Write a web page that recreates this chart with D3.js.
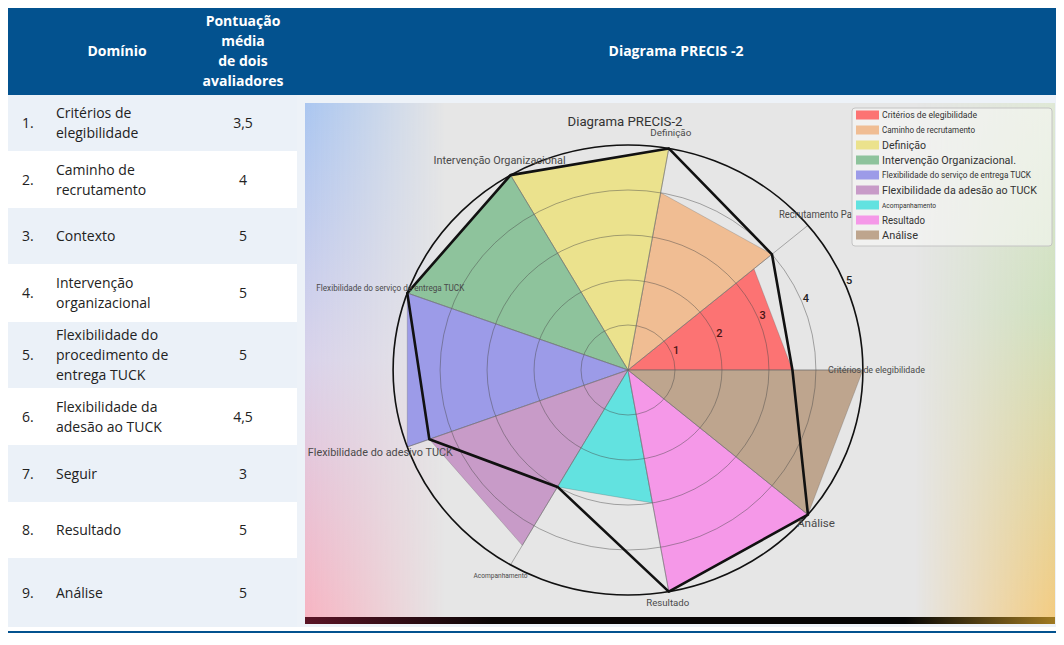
<!DOCTYPE html>
<html><head><meta charset="utf-8">
<script src="https://cdn.jsdelivr.net/npm/d3@7"></script>
<style>body{margin:0;background:#fff;} svg{display:block;}</style>
</head><body><svg id="c" width="1064" height="645"></svg>
<script>
// ---------- DATA ----------
const headerDomain = "Domínio";
const headerScore = ["Pontuação", "média", "de dois", "avaliadores"];
const headerChart = "Diagrama PRECIS -2";
const rowNumbers = ["1.", "2.", "3.", "4.", "5.", "6.", "7.", "8.", "9."];
const domainNames = [
  ["Critérios de", "elegibilidade"], ["Caminho de", "recrutamento"], ["Contexto"],
  ["Intervenção", "organizacional"], ["Flexibilidade do", "procedimento de", "entrega TUCK"],
  ["Flexibilidade da", "adesão ao TUCK"], ["Seguir"], ["Resultado"], ["Análise"]
];
const meanScores = [3.5, 4, 5, 5, 5, 4.5, 3, 5, 5];

const chartTitle = "Diagrama PRECIS-2";
const axisLabels = ["Critérios de elegibilidade", "Recrutamento Pa", "Definição", "Intervenção Organizacional",
  "Flexibilidade do serviço de entrega TUCK", "Flexibilidade do adesivo TUCK", "Acompanhamento", "Resultado", "Análise"];
const legendLabels = ["Critérios de elegibilidade", "Caminho de recrutamento", " Definição", "Intervenção Organizacional.",
  "Flexibilidade do serviço de entrega TUCK", "Flexibilidade da adesão ao TUCK", "Acompanhamento", "Resultado", "Análise"];
const radarValues = [3.5, 4, 5, 5, 5, 4.5, 3, 5, 5];
const ringTicks = [1, 2, 3, 4, 5];
const wedgeColors = ["#fc7373", "#f0bd93", "#ebe28d", "#8ec39c", "#9c9be8", "#c89bc8", "#62e2e0", "#f598e8", "#bea58e"];

// ---------- LAYOUT / STYLE ----------
const rowHeights = [56, 57, 56, 58, 66, 57, 57, 56, 69];
const bodyTop = 95;
const cx = 628, cy = 370, stretch = 1.044;
const axisStyle = [
  {a: "start", dx: -35, dy: 3, fs: 9.5, w: 97},
  {a: "start", dx: -29, dy: -7, fs: 10, w: 73},
  {a: "middle", dx: 2, dy: -12, fs: 9.5, w: 41},
  {a: "middle", dx: -11, dy: -11, fs: 10.5, w: 132},
  {a: "middle", dx: -17, dy: -2, fs: 9, w: 148},
  {a: "middle", dx: -27, dy: 9, fs: 10.5, w: 145},
  {a: "middle", dx: -10, dy: 13, fs: 7, w: 54},
  {a: "middle", dx: -1, dy: 14, fs: 9.5, w: 43},
  {a: "middle", dx: 8, dy: 12, fs: 11.5, w: 38}
];
const legendStyle = [
  {fs: 9.5, w: 95}, {fs: 9, w: 93}, {fs: 11, w: 44}, {fs: 11.5, w: 134}, {fs: 9, w: 149},
  {fs: 11.5, w: 155}, {fs: 7.5, w: 54}, {fs: 10, w: 43}, {fs: 11, w: 36}
];

const svg = d3.select("#c");
const defs = svg.append("defs");

// ---------- TABLE ----------
const blue = "#03528f";
svg.append("rect").attr("x", 8).attr("y", 8).attr("width", 1048).attr("height", 87).attr("fill", blue);
const hdr = svg.append("g").attr("fill", "#fff").attr("font-family", "'Open Sans', sans-serif")
  .attr("font-weight", 700).attr("font-size", 14).attr("text-anchor", "middle");
hdr.append("text").attr("x", 117).attr("y", 56).text(headerDomain);
hdr.selectAll("text.hs").data(headerScore).join("text").attr("class", "hs")
  .attr("x", 243).attr("y", (d, i) => 26 + i * 20).text(d => d);
hdr.append("text").attr("x", 676).attr("y", 56).text(headerChart);

const tops = rowHeights.map((h, i) => bodyTop + d3.sum(rowHeights.slice(0, i)));
const bodyBottom = bodyTop + d3.sum(rowHeights);
svg.append("rect").attr("x", 297).attr("y", bodyTop).attr("width", 759).attr("height", bodyBottom - bodyTop).attr("fill", "#edf2f8");
const rows = svg.append("g").selectAll("g").data(domainNames).join("g")
  .attr("transform", (d, i) => `translate(0,${tops[i]})`);
rows.append("rect").attr("x", 8).attr("width", 289).attr("height", (d, i) => rowHeights[i])
  .attr("fill", (d, i) => i % 2 === 0 ? "#ebf1f8" : "#ffffff");
const fmt = v => d3.format("")(v).replace(".", ",");
rows.each(function (d, i) {
  const g = d3.select(this), mid = rowHeights[i] / 2;
  const t = g.append("g").attr("font-family", "'Open Sans', sans-serif").attr("font-size", 14).attr("fill", "#222");
  t.append("text").attr("x", 22).attr("y", mid + 5).text(rowNumbers[i]);
  d.forEach((line, j) => t.append("text").attr("x", 56)
    .attr("y", mid + 5 + (j - (d.length - 1) / 2) * 20).text(line));
  t.append("text").attr("x", 243).attr("y", mid + 5).attr("text-anchor", "middle").text(fmt(meanScores[i]));
});
svg.append("line").attr("x1", 8).attr("x2", 1056).attr("y1", bodyBottom + 5).attr("y2", bodyBottom + 5)
  .attr("stroke", blue).attr("stroke-width", 2);

// ---------- IMAGE PANEL BACKGROUND ----------
const P = {x: 305, y: 103, w: 750, h: 514};
function lg(id, x1, y1, x2, y2, stops) {
  const g = defs.append("linearGradient").attr("id", id).attr("x1", x1).attr("y1", y1).attr("x2", x2).attr("y2", y2);
  stops.forEach(s => g.append("stop").attr("offset", s[0]).attr("stop-color", s[1]).attr("stop-opacity", s[2] ?? 1));
}
lg("leftCol", 0, 0, 0, 1, [[0, "#aac6f0"], [0.5, "#d9d2ea"], [1, "#f7b4c2"]]);
lg("rightCol", 0, 0, 0, 1, [[0, "#dfe8d6"], [0.4, "#cfe0bd"], [1, "#f3cc82"]]);
lg("fadeL", 0, 0, 1, 0, [[0, "#fff"], [1, "#000"]]);
lg("fadeR", 0, 0, 1, 0, [[0, "#000"], [1, "#fff"]]);
lg("bar", 0, 0, 1, 0, [[0, "#5a1426"], [0.25, "#0a0505"], [0.8, "#050505"], [1, "#a07a22"]]);
defs.append("mask").attr("id", "mL").append("rect").attr("x", P.x).attr("y", P.y).attr("width", 140).attr("height", P.h)
  .attr("fill", "url(#fadeL)");
defs.append("mask").attr("id", "mR").append("rect").attr("x", P.x + P.w - 140).attr("y", P.y).attr("width", 140).attr("height", P.h)
  .attr("fill", "url(#fadeR)");
svg.append("rect").attr("x", P.x).attr("y", P.y).attr("width", P.w).attr("height", P.h).attr("fill", "#e6e6e6");
svg.append("rect").attr("x", P.x).attr("y", P.y).attr("width", 140).attr("height", P.h).attr("fill", "url(#leftCol)").attr("mask", "url(#mL)");
svg.append("rect").attr("x", P.x + P.w - 140).attr("y", P.y).attr("width", 140).attr("height", P.h).attr("fill", "url(#rightCol)").attr("mask", "url(#mR)");
svg.append("rect").attr("x", P.x).attr("y", P.y + P.h).attr("width", P.w).attr("height", 7).attr("fill", "url(#bar)");

// ---------- RADAR ----------
const r = d3.scaleLinear().domain([0, 5]).range([0, 225]);
const n = axisLabels.length;
const ang = d3.scaleLinear().domain([0, n]).range([0, 2 * Math.PI]);
const pt = (i, v) => [r(v) * Math.cos(ang(i)), -r(v) * Math.sin(ang(i))];
const plot = svg.append("g").attr("transform", `translate(${cx},${cy}) scale(${stretch},1)`);

// wedges
plot.selectAll("path.w").data(radarValues).join("path").attr("class", "w")
  .attr("d", (v, i) => "M0,0L" + pt(i, v).join(",") + "L" + pt(i + 1, v).join(",") + "Z")
  .attr("fill", (v, i) => wedgeColors[i]).attr("stroke", "rgba(90,90,90,0.35)").attr("stroke-width", 0.8)
  .attr("vector-effect", "non-scaling-stroke");

// rings
plot.selectAll("circle.ring").data(ringTicks.slice(0, -1)).join("circle").attr("class", "ring")
  .attr("r", d => r(d)).attr("fill", "none").attr("stroke", "rgba(70,70,70,0.45)").attr("stroke-width", 1)
  .attr("vector-effect", "non-scaling-stroke");
// spokes
plot.selectAll("line.sp").data(d3.range(n)).join("line").attr("class", "sp")
  .attr("x2", i => pt(i, 5)[0]).attr("y2", i => pt(i, 5)[1])
  .attr("stroke", "rgba(110,110,110,0.55)").attr("stroke-width", 1).attr("vector-effect", "non-scaling-stroke");
plot.append("circle").attr("r", r(5)).attr("fill", "none").attr("stroke", "#111").attr("stroke-width", 1.6)
  .attr("vector-effect", "non-scaling-stroke");

// outline polygon
plot.append("path").datum(radarValues)
  .attr("d", d3.line().x((v, i) => pt(i, v)[0]).y((v, i) => pt(i, v)[1]).curve(d3.curveLinearClosed))
  .attr("fill", "none").attr("stroke", "#111").attr("stroke-width", 2.6).attr("stroke-linejoin", "round")
  .attr("vector-effect", "non-scaling-stroke");

// tick labels
const tickAng = 23 * Math.PI / 180;
svg.append("g").selectAll("text").data(ringTicks).join("text")
  .attr("x", d => cx + stretch * (r(d) + 5) * Math.cos(tickAng))
  .attr("y", d => cy - (r(d) + 5) * Math.sin(tickAng) + 4)
  .attr("text-anchor", "middle").attr("font-family", "Roboto, sans-serif").attr("font-size", 11).attr("font-weight", 500)
  .attr("fill", d => d <= 3 ? "#4a1515" : "#222").text(d => d);

// axis labels
svg.append("g").selectAll("text").data(axisLabels).join("text")
  .attr("x", (d, i) => cx + stretch * pt(i, 5)[0] + axisStyle[i].dx)
  .attr("y", (d, i) => cy + pt(i, 5)[1] + axisStyle[i].dy)
  .attr("text-anchor", (d, i) => axisStyle[i].a)
  .attr("font-family", "Roboto, sans-serif").attr("font-size", (d, i) => axisStyle[i].fs)
  .attr("textLength", (d, i) => axisStyle[i].w).attr("lengthAdjust", "spacingAndGlyphs")
  .attr("fill", "#4a4a4a").text(d => d);

// title
svg.append("text").attr("x", 625).attr("y", 126).attr("text-anchor", "middle")
  .attr("font-family", "Roboto, sans-serif").attr("font-size", 13).attr("fill", "#333")
  .attr("textLength", 115).attr("lengthAdjust", "spacingAndGlyphs").text(chartTitle);

// legend
const lgd = svg.append("g");
lgd.append("rect").attr("x", 852).attr("y", 108).attr("width", 200).attr("height", 138).attr("rx", 3)
  .attr("fill", "rgba(250,250,248,0.55)").attr("stroke", "#c4c4c4");
const ly = d3.scalePoint().domain(d3.range(n)).range([115, 235]);
const li = lgd.selectAll("g.li").data(legendLabels).join("g").attr("class", "li")
  .attr("transform", (d, i) => `translate(0,${ly(i)})`);
li.append("rect").attr("x", 856).attr("y", -4.5).attr("width", 23).attr("height", 9).attr("fill", (d, i) => wedgeColors[i]);
li.append("text").attr("x", 882).attr("y", (d, i) => legendStyle[i].fs * 0.36)
  .attr("font-family", "Roboto, sans-serif").attr("font-size", (d, i) => legendStyle[i].fs)
  .attr("textLength", (d, i) => legendStyle[i].w).attr("lengthAdjust", "spacingAndGlyphs")
  .attr("fill", "#333").text(d => d);
</script></body></html>
